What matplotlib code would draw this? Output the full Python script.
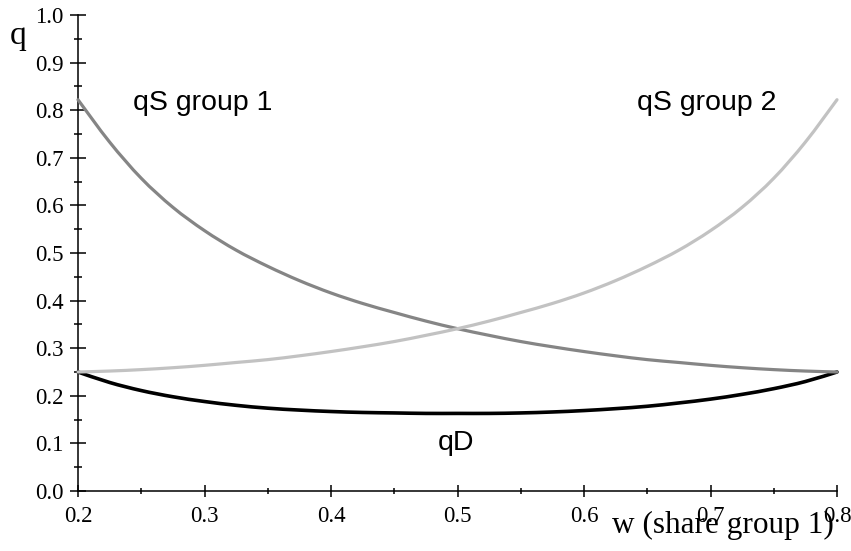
import matplotlib
matplotlib.use("Agg")
import matplotlib.pyplot as plt
from matplotlib.ticker import MultipleLocator, FixedLocator
from matplotlib.path import Path
from matplotlib.patches import PathPatch

# ---- data ----
w = [0.200, 0.225, 0.250, 0.275, 0.300, 0.325, 0.350, 0.375, 0.400, 0.425,
     0.450, 0.475, 0.500, 0.525, 0.550, 0.575, 0.600, 0.625, 0.650, 0.675,
     0.700, 0.725, 0.750, 0.775, 0.800]
qS_group1 = [0.822, 0.733, 0.657, 0.596, 0.547, 0.506, 0.472, 0.442, 0.416, 0.394,
             0.375, 0.357, 0.341, 0.327, 0.314, 0.303, 0.293, 0.284, 0.276, 0.270,
             0.264, 0.259, 0.255, 0.252, 0.250]
qS_group2 = [0.250, 0.252, 0.255, 0.259, 0.264, 0.270, 0.276, 0.284, 0.293, 0.303,
             0.314, 0.327, 0.341, 0.357, 0.375, 0.394, 0.416, 0.442, 0.472, 0.506,
             0.547, 0.596, 0.657, 0.733, 0.822]
qD = [0.250, 0.228, 0.211, 0.198, 0.188, 0.180, 0.174, 0.170, 0.167, 0.165,
      0.164, 0.163, 0.163, 0.163, 0.164, 0.166, 0.169, 0.173, 0.178, 0.185,
      0.193, 0.203, 0.215, 0.230, 0.250]
x_ticks = [0.2, 0.3, 0.4, 0.5, 0.6, 0.7, 0.8]
x_ticklabels = ["0.2", "0.3", "0.4", "0.5", "0.6", "0.7", "0.8"]
y_ticks = [0.0, 0.1, 0.2, 0.3, 0.4, 0.5, 0.6, 0.7, 0.8, 0.9, 1.0]
y_ticklabels = ["0.0", "0.1", "0.2", "0.3", "0.4", "0.5", "0.6", "0.7", "0.8", "0.9", "1.0"]

W, H = 851, 551
fig = plt.figure(figsize=(W / 100, H / 100), dpi=100)
x0, x1 = 78, 837
y0, y1 = 491, 15
ax = fig.add_axes([x0 / W, (H - y0) / H, (x1 - x0) / W, (y0 - y1) / H])
ax.set_xlim(0.2, 0.8)
ax.set_ylim(0.0, 1.0)


def smooth_curve(ax, xs, ys, **kw):
    """Draw a smooth curve through the data points (Catmull-Rom as cubic Bezier)."""
    n = len(xs)
    verts = [(xs[0], ys[0])]
    codes = [Path.MOVETO]
    for i in range(n - 1):
        xa, ya = (xs[i - 1], ys[i - 1]) if i > 0 else (xs[i], ys[i])
        xb, yb = xs[i], ys[i]
        xc, yc = xs[i + 1], ys[i + 1]
        xd, yd = (xs[i + 2], ys[i + 2]) if i + 2 < n else (xc, yc)
        c1 = (xb + (xc - xa) / 6.0, yb + (yc - ya) / 6.0)
        c2 = (xc - (xd - xb) / 6.0, yc - (yd - yb) / 6.0)
        verts += [c1, c2, (xc, yc)]
        codes += [Path.CURVE4] * 3
    patch = PathPatch(Path(verts, codes), fill=False, transform=ax.transData,
                      clip_on=False, capstyle="round", joinstyle="round", **kw)
    ax.add_patch(patch)
    return patch


smooth_curve(ax, w, qD, edgecolor="#000000", lw=2.6, zorder=2)
smooth_curve(ax, w, qS_group1, edgecolor="#858585", lw=2.3, zorder=3)
smooth_curve(ax, w, qS_group2, edgecolor="#c2c2c2", lw=2.3, zorder=3)

for s in ("top", "right"):
    ax.spines[s].set_visible(False)
for s in ("left", "bottom"):
    ax.spines[s].set_linewidth(1.1)
    ax.spines[s].set_color("black")

serif = "Liberation Serif"
ax.xaxis.set_major_locator(FixedLocator(x_ticks))
ax.yaxis.set_major_locator(FixedLocator(y_ticks))
ax.xaxis.set_minor_locator(MultipleLocator(0.05))
ax.yaxis.set_minor_locator(MultipleLocator(0.05))
ax.set_xticklabels(x_ticklabels, fontfamily=serif, fontsize=16.5)
ax.set_yticklabels(y_ticklabels, fontfamily=serif, fontsize=16.5)
ax.tick_params(axis="y", which="major", direction="inout", length=11, width=1.1, pad=5.0)
ax.tick_params(axis="y", which="minor", direction="inout", length=6, width=1.1)
ax.tick_params(axis="x", which="major", direction="inout", length=8, width=1.1, pad=7.0)
ax.tick_params(axis="x", which="minor", direction="inout", length=5, width=1.1)


def dx(px):
    return 0.2 + (px - x0) / (x1 - x0) * 0.6


def dy(py):
    return (y0 - py) / (y0 - y1)


ax.text(dx(10), dy(44), "q", fontfamily=serif, fontsize=24, ha="left", va="baseline", clip_on=False)
ax.text(dx(834), dy(533), "w (share group 1)", fontfamily=serif, fontsize=22.5,
        ha="right", va="baseline", clip_on=False)

sans = "Liberation Sans"
ax.text(dx(133), dy(110), "qS group 1", fontfamily=sans, fontsize=20.5, ha="left", va="baseline")
ax.text(dx(637), dy(110), "qS group 2", fontfamily=sans, fontsize=20.5, ha="left", va="baseline")
ax.text(dx(438), dy(450), "qD", fontfamily=sans, fontsize=20.5, ha="left", va="baseline")

fig.savefig("out.png", dpi=100)
